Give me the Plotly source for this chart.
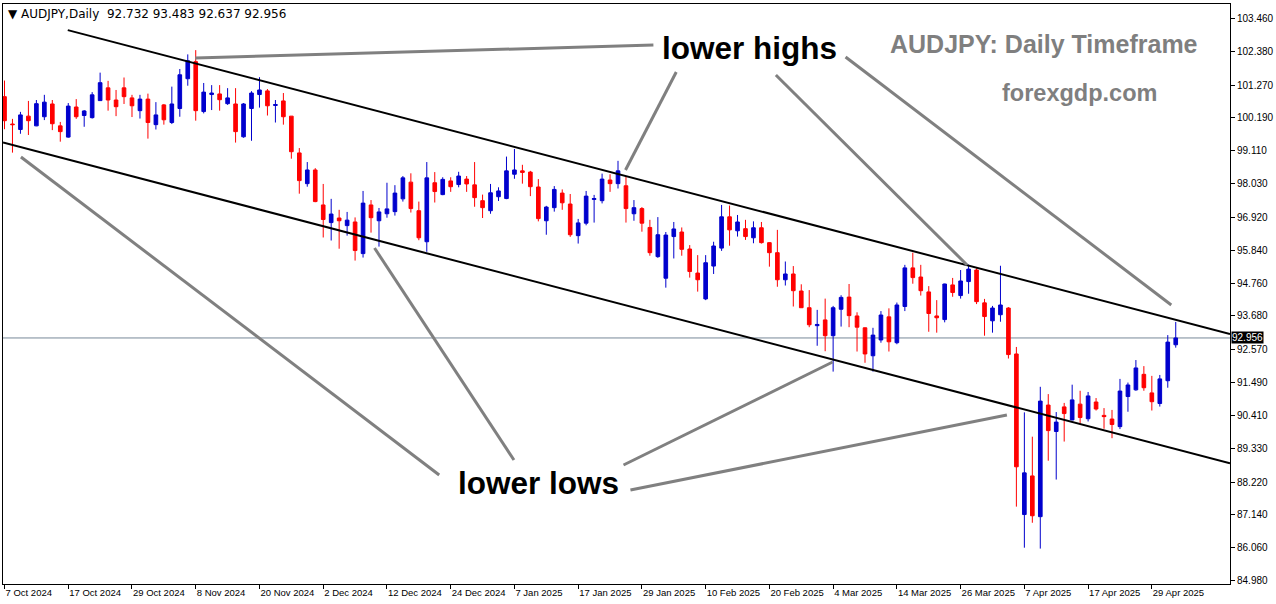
import pandas as pd
import plotly.graph_objects as go

# ---------------- data ----------------
holidays = ["2024-12-25", "2025-01-01"]
dates = [d for d in pd.bdate_range("2024-10-07", "2025-05-02") if d.strftime("%Y-%m-%d") not in holidays]
cats = [d.strftime("%Y-%m-%d") for d in dates]

opens = [100.89, 99.99, 99.81, 100.25, 99.93, 100.23, 100.65, 99.93, 99.56, 100.55,
         100.27, 100.20, 100.76, 101.18, 100.78, 101.18, 100.85, 100.43, 100.81, 99.97,
         100.62, 100.04, 100.50, 101.48, 102.04, 100.40, 100.96, 100.98, 100.66, 100.65,
         99.57, 100.50, 100.96, 101.08, 100.60, 100.75, 100.25, 99.04, 98.03, 98.48,
         97.33, 96.75, 96.90, 96.65, 96.77, 95.73, 97.33, 96.81, 97.04, 97.11,
         97.53, 98.08, 97.14, 96.12, 98.06, 97.67, 98.12, 98.00, 98.18, 97.99,
         97.47, 97.14, 97.60, 97.54, 98.34, 98.45, 98.41, 97.92, 96.81, 97.24,
         97.72, 97.36, 96.32, 96.73, 97.51, 97.47, 98.15, 98.03, 97.96, 97.04,
         97.21, 96.59, 95.63, 94.92, 96.29, 96.44, 95.88, 95.09, 94.24, 95.32,
         95.91, 96.94, 96.48, 96.55, 96.25, 96.58, 96.09, 95.76, 94.87, 95.06,
         94.50, 93.95, 93.36, 93.55, 93.03, 93.90, 94.30, 93.68, 93.29, 92.37,
         92.89, 93.65, 92.80, 93.99, 95.26, 94.96, 94.47, 93.68, 93.56, 94.70,
         94.35, 94.81, 95.19, 94.11, 93.52, 93.72, 93.94, 92.43, 87.15, 88.42,
         87.08, 90.75, 89.88, 90.69, 90.26, 90.78, 90.30, 90.85, 90.41, 90.29,
         90.04, 91.03, 91.25, 91.76, 91.15, 90.80, 91.55, 92.732]
highs = [101.42, 100.16, 100.39, 100.75, 100.78, 100.95, 100.78, 100.06, 100.68, 100.81,
         100.45, 101.04, 101.68, 101.41, 101.11, 101.52, 100.95, 100.95, 100.99, 100.71,
         100.65, 101.22, 101.80, 102.28, 102.42, 101.34, 101.27, 101.27, 101.17, 101.17,
         100.68, 101.07, 101.53, 101.14, 100.78, 101.01, 100.25, 99.20, 98.74, 98.54,
         98.02, 97.53, 97.17, 97.10, 96.92, 97.79, 97.49, 97.23, 98.06, 97.98,
         98.28, 98.37, 97.44, 98.74, 98.41, 98.24, 98.24, 98.42, 98.28, 98.74,
         97.67, 98.02, 97.91, 98.92, 99.17, 98.65, 98.45, 98.18, 97.30, 97.95,
         97.84, 97.69, 96.87, 97.79, 97.66, 98.36, 98.34, 98.78, 98.28, 97.49,
         97.26, 96.84, 96.93, 96.44, 96.77, 96.59, 96.01, 95.68, 95.68, 96.12,
         97.33, 97.31, 97.00, 96.84, 96.79, 96.77, 96.10, 96.51, 95.47, 95.32,
         94.72, 94.53, 93.88, 94.25, 94.01, 94.36, 94.73, 93.80, 93.30, 93.29,
         93.84, 93.93, 94.12, 95.36, 95.76, 95.36, 94.66, 94.20, 94.74, 94.93,
         95.19, 95.37, 95.25, 94.24, 94.01, 95.33, 93.97, 92.66, 90.51, 89.71,
         91.35, 91.11, 90.52, 90.82, 91.42, 91.22, 91.18, 90.98, 90.65, 90.59,
         91.61, 91.49, 92.23, 92.03, 91.71, 91.74, 93.05, 93.483]
lows = [99.82, 99.05, 99.67, 99.63, 99.92, 100.12, 99.79, 99.41, 99.54, 100.16,
        99.90, 100.17, 100.75, 100.43, 100.25, 100.65, 100.22, 100.17, 99.51, 99.81,
        99.97, 99.99, 100.23, 101.25, 100.10, 100.34, 100.45, 100.43, 100.62, 99.38,
        99.54, 99.44, 100.53, 100.27, 100.04, 99.97, 98.85, 97.70, 97.93, 97.42,
        96.26, 96.16, 95.89, 96.32, 95.50, 95.60, 96.42, 95.96, 96.91, 96.98,
        97.44, 97.08, 96.17, 95.79, 97.41, 97.65, 97.76, 97.91, 97.76, 97.27,
        96.90, 97.04, 97.46, 97.52, 98.19, 98.03, 97.62, 96.79, 96.35, 97.11,
        97.17, 96.28, 96.06, 96.66, 96.75, 97.38, 97.76, 97.87, 96.75, 96.81,
        96.45, 95.66, 95.59, 94.61, 95.57, 95.66, 94.94, 94.48, 94.20, 95.06,
        95.82, 95.99, 96.29, 96.18, 96.07, 96.06, 95.30, 94.64, 94.68, 93.99,
        93.95, 93.31, 92.70, 92.52, 91.85, 93.33, 93.31, 92.51, 92.14, 91.85,
        92.80, 92.51, 92.75, 93.84, 94.74, 94.35, 93.16, 93.13, 93.47, 94.31,
        94.25, 94.41, 94.07, 93.03, 93.13, 93.49, 92.28, 87.41, 86.06, 86.88,
        86.03, 88.92, 88.30, 89.55, 90.25, 90.14, 90.21, 90.57, 89.97, 89.66,
        89.96, 90.53, 91.22, 91.22, 90.57, 90.70, 91.32, 92.637]
closes = [100.10, 99.97, 100.29, 100.10, 100.66, 100.71, 100.00, 99.74, 100.58, 100.23,
          100.42, 100.95, 101.35, 100.78, 100.56, 100.89, 100.59, 100.81, 100.04, 100.29,
          100.13, 100.65, 101.61, 102.07, 100.43, 101.04, 101.01, 100.79, 100.85, 99.74,
          100.65, 101.01, 101.11, 100.59, 100.63, 100.23, 99.08, 98.13, 98.48, 97.44,
          96.85, 97.03, 96.81, 96.83, 95.83, 97.39, 96.91, 97.10, 97.20, 97.72,
          98.22, 97.21, 96.25, 98.22, 97.77, 98.17, 97.93, 98.28, 98.02, 97.57,
          97.24, 97.73, 97.79, 98.45, 98.48, 98.40, 97.93, 96.88, 97.26, 97.84,
          97.40, 96.35, 96.74, 97.62, 97.54, 98.18, 98.03, 98.45, 97.21, 97.24,
          96.73, 95.76, 96.35, 96.34, 96.54, 95.87, 95.14, 94.87, 95.43, 95.98,
          96.94, 96.51, 96.77, 96.29, 96.58, 96.09, 95.76, 94.87, 95.06, 94.51,
          93.95, 93.39, 93.40, 93.03, 93.95, 94.29, 93.69, 93.31, 92.43, 93.05,
          93.71, 92.83, 94.04, 95.26, 94.94, 94.51, 93.76, 93.62, 94.73, 94.45,
          94.83, 95.22, 94.15, 93.66, 93.94, 94.04, 92.41, 88.72, 88.52, 87.11,
          90.88, 89.91, 90.19, 90.47, 90.92, 90.34, 91.05, 90.62, 90.37, 90.11,
          91.21, 91.41, 91.97, 91.32, 90.86, 91.61, 92.82, 92.956]

y_tick_vals = [103.46, 102.38, 101.27, 100.19, 99.11, 98.03, 96.92, 95.84, 94.76,
               93.68, 92.57, 91.49, 90.41, 89.33, 88.22, 87.14, 86.06, 84.98]
y_tick_text = ["103.460", "102.380", "101.270", "100.190", "99.110", "98.030", "96.920",
               "95.840", "94.760", "93.680", "92.570", "91.490", "90.410", "89.330",
               "88.220", "87.140", "86.060", "84.980"]
x_tick_idx = list(range(0, len(cats), 8))
x_tick_vals = [cats[i] for i in x_tick_idx]
x_tick_text = [f"{dates[i].day} {dates[i].strftime('%b %Y')}" for i in x_tick_idx]

last_price = 92.956
header = "▼ AUDJPY,Daily&nbsp;&nbsp;92.732 93.483 92.637 92.956"

# channel lines: (x index, price)
upper_channel = [(7.94, 103.078), (153.81, 93.086)]
lower_channel = [(-0.19, 99.383), (153.81, 88.835)]

# annotation pointer lines: (x0, y0, x1, y1) in (index, price)
pointer_lines = [
    (23.94, 102.161, 81.44, 102.588),
    (84.31, 101.701, 77.94, 98.478),
    (96.81, 101.602, 120.81, 95.355),
    (105.56, 102.194, 146.44, 94.04),
    (2.06, 98.906, 54.56, 88.45),
    (46.44, 95.914, 63.94, 88.943),
    (77.69, 88.779, 103.94, 92.165),
    (78.56, 87.957, 125.81, 90.423),
]
labels = [("lower highs", 93.56, 102.49), ("lower lows", 67.06, 88.187)]

# ---------------- figure ----------------
fig = go.Figure()
fig.add_trace(go.Candlestick(
    x=cats, open=opens, high=highs, low=lows, close=closes,
    increasing=dict(line=dict(color="#0000CD", width=1), fillcolor="#0000CD"),
    decreasing=dict(line=dict(color="#FF0000", width=1), fillcolor="#FF0000"),
    whiskerwidth=0, showlegend=False, hoverinfo="skip",
))

shapes = []
shapes.append(dict(type="line", xref="x", yref="y", x0=-1, x1=160, y0=last_price, y1=last_price,
                   line=dict(color="#778899", width=1), layer="below"))
for (p0, p1) in (upper_channel, lower_channel):
    shapes.append(dict(type="line", xref="x", yref="y", x0=p0[0], y0=p0[1], x1=p1[0], y1=p1[1],
                       line=dict(color="black", width=2)))
for (x0, y0, x1, y1) in pointer_lines:
    shapes.append(dict(type="line", xref="x", yref="y", x0=x0, y0=y0, x1=x1, y1=y1,
                       line=dict(color="#808080", width=3)))

annotations = []
for (txt, xi, yp) in labels:
    annotations.append(dict(text=f"<b>{txt}</b>", x=xi, y=yp, xref="x", yref="y", showarrow=False,
                            font=dict(family="Liberation Sans", size=31.5, color="black"),
                            xanchor="center", yanchor="middle"))
annotations.append(dict(text="<b>AUDJPY: Daily Timeframe</b>", x=130.44, y=102.62, xref="x", yref="y",
                        showarrow=False, font=dict(family="Liberation Sans", size=25, color="#7f7f7f")))
annotations.append(dict(text="<b>forexgdp.com</b>", x=134.94, y=101.01, xref="x", yref="y",
                        showarrow=False, font=dict(family="Liberation Sans", size=23.5, color="#7f7f7f")))
annotations.append(dict(text=header, x=0, y=1, xref="paper", yref="paper", xanchor="left", yanchor="top",
                        xshift=3, yshift=-1, showarrow=False,
                        font=dict(family="DejaVu Sans", size=12, color="black")))
annotations.append(dict(text="92.956", x=1, y=last_price, xref="paper", yref="y",
                        xanchor="left", yanchor="middle", xshift=1, showarrow=False,
                        bgcolor="black", borderpad=0,
                        font=dict(family="Liberation Sans", size=10, color="white")))

fig.update_layout(
    width=1276, height=604,
    margin=dict(l=2, r=42, t=4, b=20),
    paper_bgcolor="white", plot_bgcolor="white",
    shapes=shapes, annotations=annotations,
    boxgap=0.35,
    xaxis=dict(type="category", range=[-0.19, 153.81], rangeslider=dict(visible=False),
               tickvals=x_tick_vals, ticktext=x_tick_text, ticks="outside", ticklen=4,
               tickcolor="black", ticklabelposition="outside right",
               showline=True, linecolor="black", linewidth=1, mirror=True,
               showgrid=False, zeroline=False,
               tickfont=dict(family="Liberation Sans", size=9.5, color="black")),
    yaxis=dict(side="right", range=[84.866, 103.937], tickvals=y_tick_vals, ticktext=y_tick_text,
               ticks="outside", ticklen=4, tickcolor="black",
               showline=True, linecolor="black", linewidth=1, mirror=True,
               showgrid=False, zeroline=False,
               tickfont=dict(family="Liberation Sans", size=10, color="black")),
)

fig.write_html("out.html", config={"displayModeBar": False},
               post_script="document.body.style.margin='0';document.body.style.overflow='hidden';")
